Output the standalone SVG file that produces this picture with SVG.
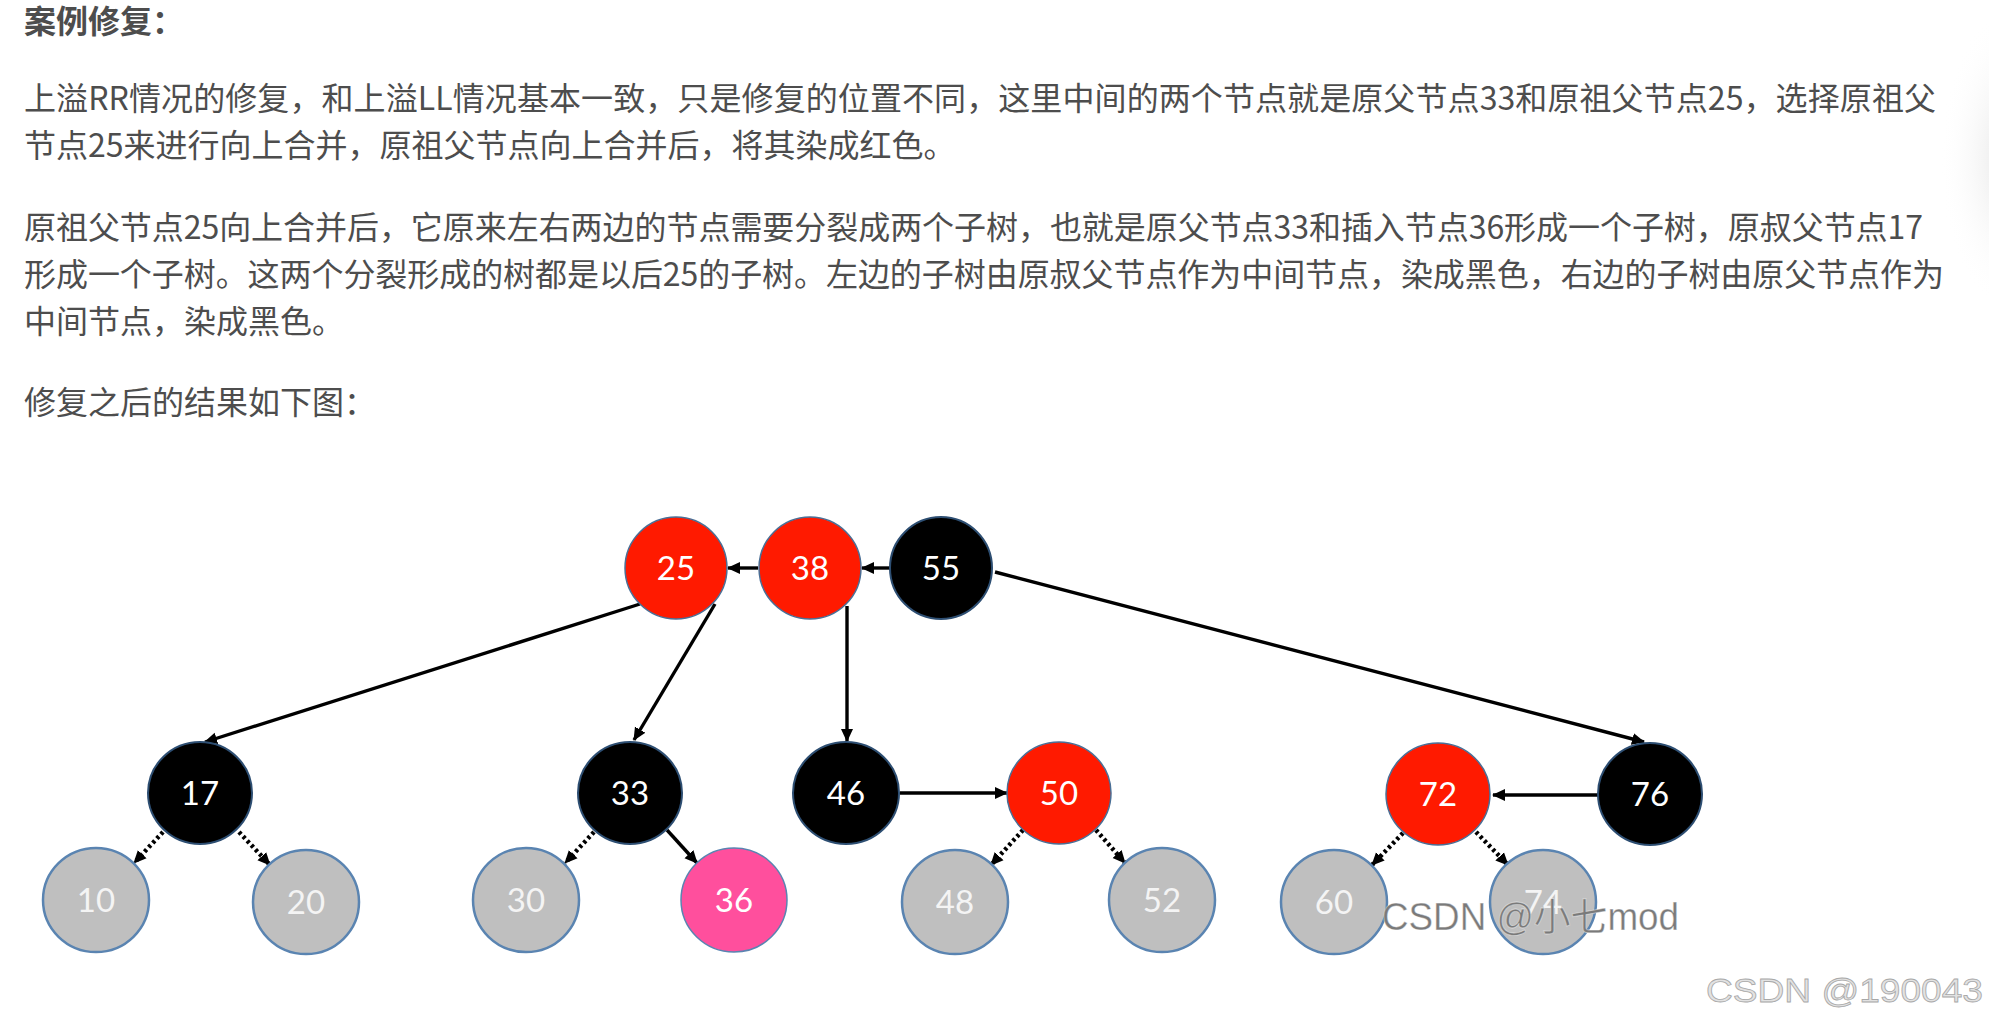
<svg xmlns="http://www.w3.org/2000/svg" width="1989" height="1023" viewBox="0 0 1989 1023">
<style>
.body{font-family:"Noto Sans CJK SC","Noto Sans",sans-serif;font-size:32px;fill:#4d4d4d}
.title{font-family:"Noto Sans CJK SC","Noto Sans",sans-serif;font-size:32px;font-weight:bold;fill:#4d4d4d}
.red{fill:#ff1a00;stroke:#4a6f96;stroke-width:1.5}
.blk{fill:#000;stroke:#2d4e72;stroke-width:2}
.gry{fill:#bfbfbf;stroke:#5a84b1;stroke-width:2.5}
.pnk{fill:#ff4f9d;stroke:#5a84b1;stroke-width:1.5}
.lbl{font-family:Lato,"Open Sans",sans-serif;font-size:33px;fill:#fff;text-anchor:middle}
.lblg{font-family:Lato,"Open Sans",sans-serif;font-size:33px;fill:#f4f4f4;text-anchor:middle}
.sol{stroke:#000;stroke-width:3.4;fill:none;marker-end:url(#ah)}
.dot{stroke:#000;stroke-width:4.5;stroke-dasharray:3 3;fill:none;marker-end:url(#ah)}
.wm{font-family:"Liberation Sans","Noto Sans CJK SC",sans-serif}
</style>
<defs>
<marker id="ah" viewBox="0 0 13 13" refX="12" refY="6.5" markerWidth="13" markerHeight="13" markerUnits="userSpaceOnUse" orient="auto">
<path d="M0,0.5 L13,6.5 L0,12.5 z" fill="#000"/>
</marker>
<radialGradient id="sh" cx="0.5" cy="0.5" r="0.5">
<stop offset="0" stop-color="#e4e4e4"/>
<stop offset="1" stop-color="#ffffff" stop-opacity="0"/>
</radialGradient>
</defs>
<rect x="0" y="0" width="1989" height="1023" fill="#fff"/>
<ellipse cx="2010" cy="160" rx="70" ry="150" fill="url(#sh)"/>

<g id="text">
<text class="title" x="24" y="33">案例修复：</text>
<text class="body" x="24" y="110" textLength="1912" lengthAdjust="spacing">上溢RR情况的修复，和上溢LL情况基本一致，只是修复的位置不同，这里中间的两个节点就是原父节点33和原祖父节点25，选择原祖父</text>
<text class="body" x="24" y="157">节点25来进行向上合并，原祖父节点向上合并后，将其染成红色。</text>
<text class="body" x="24" y="239" textLength="1899" lengthAdjust="spacing">原祖父节点25向上合并后，它原来左右两边的节点需要分裂成两个子树，也就是原父节点33和插入节点36形成一个子树，原叔父节点17</text>
<text class="body" x="24" y="286" textLength="1920" lengthAdjust="spacing">形成一个子树。这两个分裂形成的树都是以后25的子树。左边的子树由原叔父节点作为中间节点，染成黑色，右边的子树由原父节点作为</text>
<text class="body" x="24" y="333">中间节点，染成黑色。</text>
<text class="body" x="24" y="414">修复之后的结果如下图：</text>
</g>

<g id="connectors">
<path class="sol" d="M758,568 L728,568"/>
<path class="sol" d="M890,568 L862,568"/>
<path class="sol" d="M640,604 L205,742"/>
<path class="sol" d="M715,604 L634,740"/>
<path class="sol" d="M847,606 L847,741"/>
<path class="sol" d="M995,572 L1644,742"/>
<path class="sol" d="M900,793 L1007,793"/>
<path class="sol" d="M1599,795 L1493,795"/>
<path class="sol" d="M667,830 L697,863"/>
<path class="dot" d="M163,832 L134,863"/>
<path class="dot" d="M239,832 L270,865"/>
<path class="dot" d="M594,832 L565,863"/>
<path class="dot" d="M1023,830 L991,865"/>
<path class="dot" d="M1096,830 L1125,863"/>
<path class="dot" d="M1403,833 L1372,865"/>
<path class="dot" d="M1476,832 L1508,865"/>
</g>

<g id="n25"><ellipse class="red" cx="676" cy="568" rx="51" ry="51"/><text class="lbl" x="676" y="580">25</text></g>
<g id="n38"><ellipse class="red" cx="810" cy="568" rx="51" ry="51"/><text class="lbl" x="810" y="580">38</text></g>
<g id="n55"><ellipse class="blk" cx="941" cy="568" rx="51" ry="51"/><text class="lbl" x="941" y="580">55</text></g>

<g id="n17"><ellipse class="blk" cx="200" cy="793" rx="52" ry="51"/><text class="lbl" x="200" y="805">17</text></g>
<g id="n33"><ellipse class="blk" cx="630" cy="793" rx="52" ry="51"/><text class="lbl" x="630" y="805">33</text></g>
<g id="n46"><ellipse class="blk" cx="846" cy="793" rx="53" ry="51"/><text class="lbl" x="846" y="805">46</text></g>
<g id="n50"><ellipse class="red" cx="1059" cy="793" rx="52" ry="51"/><text class="lbl" x="1059" y="805">50</text></g>
<g id="n72"><ellipse class="red" cx="1438" cy="794" rx="52" ry="51"/><text class="lbl" x="1438" y="806">72</text></g>
<g id="n76"><ellipse class="blk" cx="1650" cy="794" rx="52" ry="51"/><text class="lbl" x="1650" y="806">76</text></g>

<g id="n10"><ellipse class="gry" cx="96" cy="900" rx="53" ry="52"/><text class="lblg" x="96" y="912">10</text></g>
<g id="n20"><ellipse class="gry" cx="306" cy="902" rx="53" ry="52"/><text class="lblg" x="306" y="914">20</text></g>
<g id="n30"><ellipse class="gry" cx="526" cy="900" rx="53" ry="52"/><text class="lblg" x="526" y="912">30</text></g>
<g id="n36"><ellipse class="pnk" cx="734" cy="900" rx="53" ry="52"/><text class="lbl" x="734" y="912">36</text></g>
<g id="n48"><ellipse class="gry" cx="955" cy="902" rx="53" ry="52"/><text class="lblg" x="955" y="914">48</text></g>
<g id="n52"><ellipse class="gry" cx="1162" cy="900" rx="53" ry="52"/><text class="lblg" x="1162" y="912">52</text></g>
<g id="n60"><ellipse class="gry" cx="1334" cy="902" rx="53" ry="52"/><text class="lblg" x="1334" y="914">60</text></g>
<g id="n74"><ellipse class="gry" cx="1543" cy="902" rx="53" ry="52"/><text class="lblg" x="1543" y="914">74</text></g>

<g id="watermarks">
<text class="wm" x="1382" y="930" font-size="38" textLength="297" lengthAdjust="spacingAndGlyphs" fill="#7a7a7a" stroke="#ffffff" stroke-opacity="0.5" stroke-width="0.8">CSDN @小七mod</text>
<text class="wm" x="1706" y="1002" font-size="34" textLength="277" lengthAdjust="spacingAndGlyphs" fill="#e2e2e2" stroke="#a8a8a8" stroke-width="0.8">CSDN @190043</text>
</g>
</svg>
